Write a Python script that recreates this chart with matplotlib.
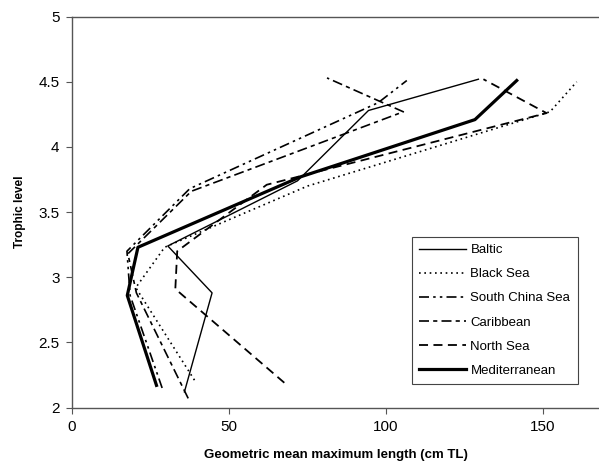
import matplotlib
matplotlib.use("Agg")
import matplotlib.pyplot as plt

plt.rcParams['font.family'] = ['Liberation Sans', 'DejaVu Sans']

# trophic level vs geometric mean maximum length, one list pair per sea
baltic_len = [35.8, 44.6, 30.5, 71.8, 94.4, 129.4]
baltic_tl = [2.12, 2.88, 3.24, 3.74, 4.28, 4.52]

black_len = [39.0, 20.3, 29.5, 75.0, 152.2, 160.7]
black_tl = [2.21, 2.92, 3.23, 3.70, 4.27, 4.50]

scs_len = [28.7, 18.5, 17.5, 37.5, 97.5, 106.6]
scs_tl = [2.15, 2.86, 3.20, 3.68, 4.34, 4.51]

carib_len = [37.0, 20.5, 17.8, 38.0, 105.5, 81.2]
carib_tl = [2.07, 2.88, 3.18, 3.66, 4.27, 4.53]

north_len = [67.6, 32.9, 33.5, 62.0, 151.1, 131.0]
north_tl = [2.19, 2.91, 3.20, 3.71, 4.26, 4.52]

med_len = [26.9, 17.6, 21.0, 72.7, 128.3, 141.6]
med_tl = [2.17, 2.86, 3.23, 3.77, 4.21, 4.51]

fig = plt.figure(figsize=(5.99, 4.70), dpi=100)
ax = fig.add_axes([72 / 599, 1 - 407.5 / 470, 1 - 72 / 599, (407.5 - 16.7) / 470])

ax.plot(baltic_len, baltic_tl, color='k', lw=1.0, label='Baltic')
ax.plot(black_len, black_tl, color='k', lw=1.2, linestyle=(0, (1, 2.2)), label='Black Sea')
ax.plot(scs_len, scs_tl, color='k', lw=1.2, linestyle=(0, (6, 2.5, 1.5, 2.5, 1.5, 2.5)),
        label='South China Sea')
ax.plot(carib_len, carib_tl, color='k', lw=1.2, linestyle=(0, (6, 2.5, 2.5, 2.5)), label='Caribbean')
ax.plot(north_len, north_tl, color='k', lw=1.3, linestyle=(0, (5, 3)), label='North Sea')
ax.plot(med_len, med_tl, color='k', lw=2.3, label='Mediterranean')

ax.set_xlim(0, 167.8)
ax.set_ylim(2, 5)
ax.set_xticks([0, 50, 100, 150])
ax.set_yticks([2, 2.5, 3, 3.5, 4, 4.5, 5])
ax.set_yticklabels(['2', '2.5', '3', '3.5', '4', '4.5', '5'])
ax.tick_params(direction='out', length=4, width=0.8, color='#555555', labelsize=11, pad=5)

for s in ['left', 'bottom', 'top']:
    ax.spines[s].set_color('#555555')
    ax.spines[s].set_linewidth(1.0)
ax.spines['right'].set_visible(False)

ax.set_ylabel('Trophic level', fontsize=8.5, fontweight='bold', labelpad=9)
ax.set_xlabel('Geometric mean maximum length (cm TL)', fontsize=9.5, fontweight='bold', labelpad=11)

leg = ax.legend(loc='upper left', bbox_to_anchor=(411.7 / 599, 1 - 236.7 / 470),
                bbox_transform=fig.transFigure, borderaxespad=0, fontsize=9.5,
                handlelength=3.6, handletextpad=0.3, labelspacing=0.9,
                fancybox=False, framealpha=1, edgecolor='#444444', borderpad=0.55)
leg.get_frame().set_linewidth(0.8)

fig.savefig('out.png', dpi=100)
